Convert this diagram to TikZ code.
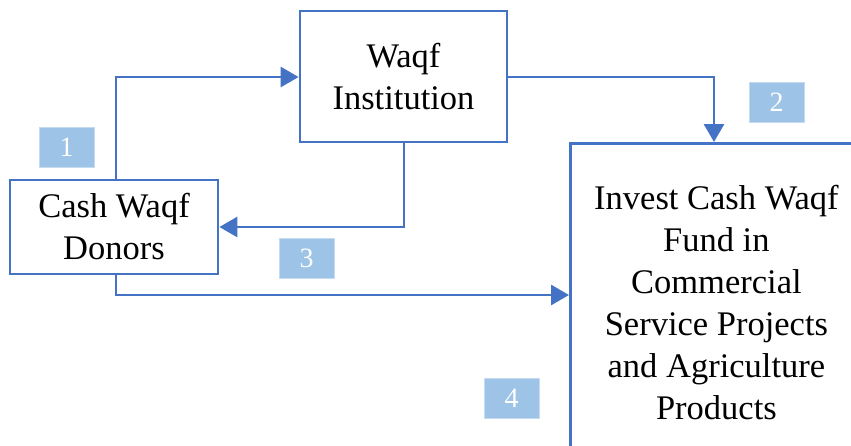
\documentclass[tikz,border=0pt]{standalone}
\usepackage{fontspec}
\setmainfont{Liberation Serif}
\usetikzlibrary{arrows.meta}
\definecolor{flowblue}{HTML}{4472C4}
\definecolor{tagblue}{HTML}{9DC3E6}
\tikzset{
  box/.style={draw=flowblue, line width=2.8pt, fill=white, align=center,
    font=\fontsize{34.5}{42}\selectfont, inner sep=0pt},
  tag/.style={fill=tagblue, draw=tagblue!60!white, line width=0.8pt, text=white,
    minimum width=55pt, minimum height=40pt, inner sep=0pt,
    font=\fontsize{28}{28}\selectfont},
  flow/.style={draw=flowblue, line width=2.8pt,
    -{Triangle[length=18pt,width=20pt]}},
}
\begin{document}
\begin{tikzpicture}[x=1pt,y=-1pt]
\clip (0,0) rectangle (851,445);
\fill[white] (0,0) rectangle (851,445);
% boxes
\node[box, minimum width=208pt, minimum height=94pt] (donors) at (114,227) {Cash Waqf\\Donors};
\node[box, minimum width=207pt, minimum height=131pt] (inst) at (403.5,76.5) {Waqf\\Institution};
\node[box, anchor=north west, minimum width=292pt, minimum height=318pt] (invest) at (569,142)
  {Invest Cash Waqf\\Fund in\\Commercial\\Service Projects\\and Agriculture\\Products};
% step tags
\node[tag] (t1) at (66.5,147) {1};
\node[tag] (t2) at (776.5,102) {2};
\node[tag] (t3) at (306.5,258) {3};
\node[tag] (t4) at (511.5,398) {4};
% connectors
\coordinate (c1) at (116,77);
\coordinate (c2) at (714,77);
\coordinate (c3) at (404,227);
\coordinate (c4) at (116,295);
\draw[flow] (donors.north -| c1) -- (c1) -- (inst.west |- c1);
\draw[flow] (inst.east |- c2) -- (c2) -- (invest.north -| c2);
\draw[flow] (inst.south -| c3) -- (c3) -- (donors.east |- c3);
\draw[flow] (donors.south -| c4) -- (c4) -- (invest.west |- c4);
\end{tikzpicture}
\end{document}
